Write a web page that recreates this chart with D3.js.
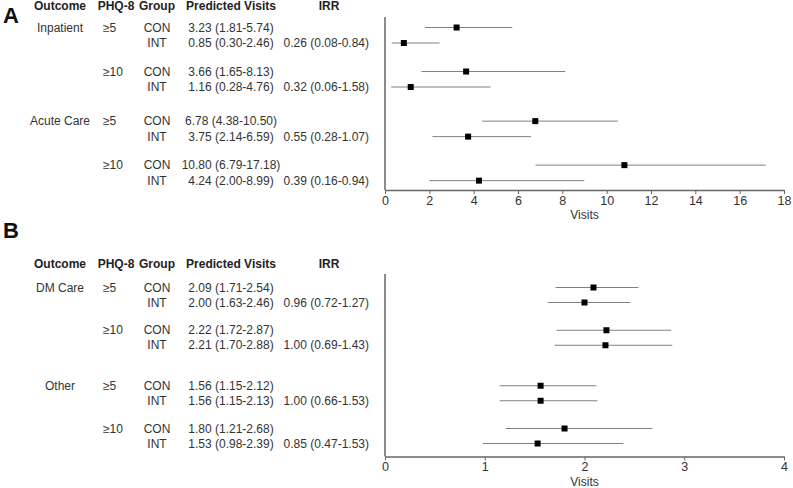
<!DOCTYPE html>
<html><head><meta charset="utf-8">
<script src="https://cdn.jsdelivr.net/npm/d3@7"></script>
<style>
html,body{margin:0;padding:0;background:#fff;}
text{font-family:"Liberation Sans",Arial,sans-serif;}
</style></head>
<body><svg id="c" width="793" height="488"></svg>
<script>
// ---------- data ----------
const headers = ["Outcome","PHQ-8","Group","Predicted Visits","IRR"];
const phqLevels = ["≥5","≥10"];
const groups = ["CON","INT"];

const outcomesA = ["Inpatient","Acute Care"];
const estA = [3.23,0.85,3.66,1.16,6.78,3.75,10.80,4.24];
const loA  = [1.81,0.30,1.65,0.28,4.38,2.14,6.79,2.00];
const hiA  = [5.74,2.46,8.13,4.76,10.50,6.59,17.18,8.99];
const irrA   = [0.26,0.32,0.55,0.39];
const irrLoA = [0.08,0.06,0.28,0.16];
const irrHiA = [0.84,1.58,1.07,0.94];
const ticksA = [0,2,4,6,8,10,12,14,16,18];

const outcomesB = ["DM Care","Other"];
const estB = [2.09,2.00,2.22,2.21,1.56,1.56,1.80,1.53];
const loB  = [1.71,1.63,1.72,1.70,1.15,1.15,1.21,0.98];
const hiB  = [2.54,2.46,2.87,2.88,2.12,2.13,2.68,2.39];
const irrB   = [0.96,1.00,1.00,0.85];
const irrLoB = [0.72,0.69,0.66,0.47];
const irrHiB = [1.27,1.43,1.53,1.53];
const ticksB = [0,1,2,3,4];

const axisLabel = "Visits";

// ---------- drawing ----------
const svg = d3.select("#c");
const f2 = v => v.toFixed(2);

function panel(cfg){
  const g = svg.append("g");
  const rows = [];
  cfg.outcomes.forEach((o,oi)=>phqLevels.forEach((p,pi)=>groups.forEach((gr,gi)=>{
    const i = oi*4+pi*2+gi;
    rows.push({o,oi,p,pi,gr,gi,i,
      slot: oi*cfg.outGap + pi*cfg.phqGap + gi,
      est:cfg.est[i],lo:cfg.lo[i],hi:cfg.hi[i]});
  })));
  const y = d3.scaleLinear().domain([0,1]).range([cfg.y0, cfg.y0+cfg.rowGap]);
  const x = d3.scaleLinear().domain([0, d3.max(cfg.ticks)]).range([385,784]);

  // panel letter
  g.append("text").attr("x",3).attr("y",cfg.letterY).text(cfg.letter)
    .attr("font-size",22).attr("font-weight","bold").attr("fill","#111");

  // headers
  const hx = [60,116,157,231,329];
  g.selectAll("text.h").data(headers).join("text").attr("class","h")
    .attr("x",(d,i)=>hx[i]).attr("y",cfg.headY).attr("text-anchor","middle")
    .attr("font-size",12).attr("font-weight","bold").attr("fill","#222").text(d=>d);

  const txt = (sel)=>sel.attr("font-size",12).attr("fill","#333").attr("dy","0.35em");
  // outcome
  g.selectAll("text.o").data(rows.filter(r=>r.pi===0&&r.gi===0)).join("text").attr("class","o")
    .attr("x",60).attr("y",r=>y(r.slot)).attr("text-anchor","middle").text(r=>r.o).call(txt);
  // phq
  g.selectAll("text.p").data(rows.filter(r=>r.gi===0)).join("text").attr("class","p")
    .attr("x",103).attr("y",r=>y(r.slot)).text(r=>r.p).call(txt);
  // group
  g.selectAll("text.g").data(rows).join("text").attr("class","g")
    .attr("x",157).attr("y",r=>y(r.slot)).attr("text-anchor","middle").text(r=>r.gr).call(txt);
  // predicted
  g.selectAll("text.pv").data(rows).join("text").attr("class","pv")
    .attr("x",231).attr("y",r=>y(r.slot)).attr("text-anchor","middle")
    .text(r=>`${f2(r.est)} (${f2(r.lo)}-${f2(r.hi)})`).call(txt);
  // IRR
  g.selectAll("text.irr").data(rows.filter(r=>r.gi===1)).join("text").attr("class","irr")
    .attr("x",369).attr("y",r=>y(r.slot)).attr("text-anchor","end")
    .text(r=>{const k=r.oi*2+r.pi; return `${f2(cfg.irr[k])} (${f2(cfg.irrLo[k])}-${f2(cfg.irrHi[k])})`;}).call(txt);

  // axes
  const ax = g.append("g").attr("transform",`translate(0,${cfg.base})`)
    .call(d3.axisBottom(x).tickValues(cfg.ticks).tickFormat(d3.format("d"))
      .tickSize(4).tickSizeOuter(0).tickPadding(2));
  ax.select(".domain").attr("stroke","#666").attr("stroke-width",1.5);
  ax.selectAll(".tick line").attr("stroke","#666").attr("stroke-width",1);
  ax.selectAll(".tick text").attr("font-size",12.5).attr("fill","#333")
    .attr("font-family","'Liberation Sans',Arial,sans-serif");
  g.append("line").attr("x1",x(0)).attr("x2",x(0)).attr("y1",cfg.top).attr("y2",cfg.base)
    .attr("stroke","#666").attr("stroke-width",1.5);
  g.append("text").attr("x",(x(0)+x(d3.max(cfg.ticks)))/2).attr("y",cfg.base+29)
    .attr("text-anchor","middle").attr("font-size",12).attr("fill","#333").text(axisLabel);

  // CIs
  g.selectAll("line.ci").data(rows).join("line").attr("class","ci")
    .attr("x1",r=>x(r.lo)).attr("x2",r=>x(r.hi))
    .attr("y1",r=>y(r.slot)).attr("y2",r=>y(r.slot))
    .attr("stroke","#808080").attr("stroke-width",1);
  g.selectAll("rect.pt").data(rows).join("rect").attr("class","pt")
    .attr("x",r=>x(r.est)-3).attr("y",r=>y(r.slot)-3).attr("width",6).attr("height",6)
    .attr("fill","#000");
}

panel({letter:"A",letterY:23,headY:10,y0:27.5,rowGap:15.5,phqGap:2.84,outGap:6.04,
  top:17,base:190,ticks:ticksA,outcomes:outcomesA,est:estA,lo:loA,hi:hiA,
  irr:irrA,irrLo:irrLoA,irrHi:irrHiA});
panel({letter:"B",letterY:238,headY:268,y0:287.5,rowGap:15,phqGap:2.85,outGap:6.55,
  top:274,base:456.5,ticks:ticksB,outcomes:outcomesB,est:estB,lo:loB,hi:hiB,
  irr:irrB,irrLo:irrLoB,irrHi:irrHiB});
</script></body></html>
